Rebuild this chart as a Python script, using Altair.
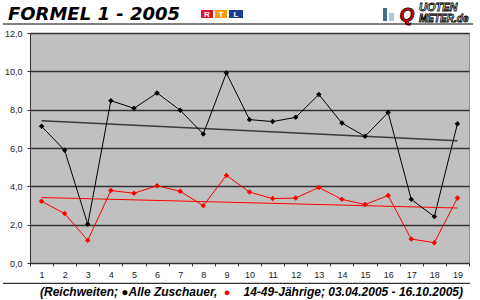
import altair as alt
import pandas as pd

races = list(range(1, 20))
alle = [7.13, 5.88, 2.02, 8.47, 8.07, 8.87, 7.97, 6.73, 9.91, 7.48,
        7.38, 7.60, 8.79, 7.30, 6.61, 7.85, 3.32, 2.42, 7.27]
junge = [3.22, 2.58, 1.18, 3.78, 3.64, 4.03, 3.74, 2.99, 4.57, 3.70,
         3.36, 3.39, 3.94, 3.32, 3.05, 3.52, 1.25, 1.06, 3.39]
series_names = ["Alle Zuschauer", "14-49-Jährige"]
y_ticks = [0, 2, 4, 6, 8, 10, 12]
x_bounds = [i - 0.5 for i in races] + [races[-1] + 0.5]

rows = []
for name, vals in zip(series_names, [alle, junge]):
    for r, v in zip(races, vals):
        rows.append({"rennen": r, "wert": v, "serie": name})
df = pd.DataFrame(rows)

FONT = "Liberation Sans"
xscale = alt.Scale(domain=[0.5, 19.5], nice=False, zero=False)
yscale = alt.Scale(domain=[0, 12], nice=False)
yaxis = alt.Axis(values=y_ticks, grid=True, gridColor="#333333", gridWidth=1.3,
                 labelExpr="replace(format(datum.value, '.1f'), '.', ',')",
                 tickSize=3, tickColor="#333333", domainColor="#333333",
                 labelFontSize=9, labelColor="#222222", labelFont=FONT,
                 labelPadding=5, title=None)
x_label_axis = alt.Axis(values=races, tickSize=0, grid=False, domain=True,
                        domainColor="#333333", labelFontSize=9, labelColor="#222222",
                        labelFont=FONT, labelPadding=7, title=None, orient="bottom",
                        labelAngle=0)
x_tick_axis = alt.Axis(values=x_bounds, labels=False, tickSize=3, tickColor="#333333",
                       grid=False, domain=False, title=None, orient="bottom")

col_main = alt.Scale(domain=series_names, range=["#000000", "#ff0000"])
col_trend = alt.Scale(domain=series_names, range=["#3a3a3a", "#ff0000"])
w_trend = alt.Scale(domain=series_names, range=[1.6, 1.0])

base = alt.Chart(df)
y_enc = alt.Y("wert:Q", scale=yscale, axis=yaxis)

trend = base.transform_regression("rennen", "wert", groupby=["serie"]).mark_line().encode(
    x=alt.X("rennen:Q", scale=xscale, axis=None),
    y=y_enc,
    color=alt.Color("serie:N", scale=col_trend, legend=None),
    strokeWidth=alt.StrokeWidth("serie:N", scale=w_trend, legend=None),
)
lines = base.mark_line(strokeWidth=1).encode(
    x=alt.X("rennen:Q", scale=xscale, axis=x_label_axis),
    y=y_enc,
    color=alt.Color("serie:N", scale=col_main, legend=None),
    detail="serie:N",
)
points = base.mark_point(shape="diamond", filled=True, size=30, opacity=1).encode(
    x=alt.X("rennen:Q", scale=xscale, axis=x_tick_axis),
    y=y_enc,
    color=alt.Color("serie:N", scale=col_main, legend=None),
)

one = pd.DataFrame({"a": [0]})


def txt(s, x, y, size, color="#000000", align="left", style="italic", weight="bold",
        stroke=None, font=FONT):
    kw = dict(text=s, fontSize=size, color=color, align=align, baseline="alphabetic",
              fontStyle=style, fontWeight=weight, font=font)
    if stroke:
        kw.update(stroke=stroke, strokeWidth=0.8)
    return alt.Chart(one).mark_text(**kw).encode(x=alt.value(x), y=alt.value(y))


def rule(x1, x2, y, color="#000000", w=1):
    return alt.Chart(one).mark_rule(color=color, strokeWidth=w).encode(
        x=alt.value(x1), x2=alt.value(x2), y=alt.value(y))


def box(x1, x2, y1, y2, color):
    return alt.Chart(one).mark_rect(color=color).encode(
        x=alt.value(x1), x2=alt.value(x2), y=alt.value(y1), y2=alt.value(y2))


deco = [
    txt("FORMEL 1 - 2005", -22, -13, 18, font="DejaVu Sans"),
    rule(-27, 443, -9),
    box(171, 183, -23, -15, "#e4102a"),
    box(185, 197, -23, -15, "#f5a000"),
    box(199, 213, -23, -15, "#1d3c8c"),
    txt("R", 177, -16, 8, color="#ffffff", align="center", style="normal"),
    txt("T", 191, -16, 8, color="#ffffff", align="center", style="normal"),
    txt("L", 206, -16, 8, color="#ffffff", align="center", style="normal"),
    box(353, 357, -25, -12, "#4a6a8c"),
    box(359, 364, -20, -12, "#a8c8e0"),
    txt("Q", 377, -12, 19, color="#e00000", align="center", stroke="#000000"),
    txt("UOTEN", 389, -22, 11, color="#ffffff", stroke="#000000"),
    txt("METER.de", 389, -11, 10, color="#ffffff", stroke="#000000"),
    rule(-27, 440, 250.3),
    txt("(Reichweiten; \u25cfAlle Zuschauer,", 10, 263, 12),
    txt("\u25cf", 197, 263, 11, color="#ff0000", align="center", style="normal"),
    txt("14-49-Jährige; 03.04.2005 - 16.10.2005)", 433, 263, 12, align="right"),
]

chart = alt.layer(trend, lines, points, *deco).resolve_axis(x="independent").resolve_scale(
    color="independent", strokeWidth="independent").properties(
    width=439, height=230,
    autosize=alt.AutoSizeParams(type="none"),
    padding={"left": 30, "top": 33, "right": 11, "bottom": 37},
    background="#ffffff",
).configure_view(fill="#c0c0c0", stroke="#8c8c8c", strokeWidth=1)

chart.save("out.html", embed_options={"renderer": "svg", "actions": False})
